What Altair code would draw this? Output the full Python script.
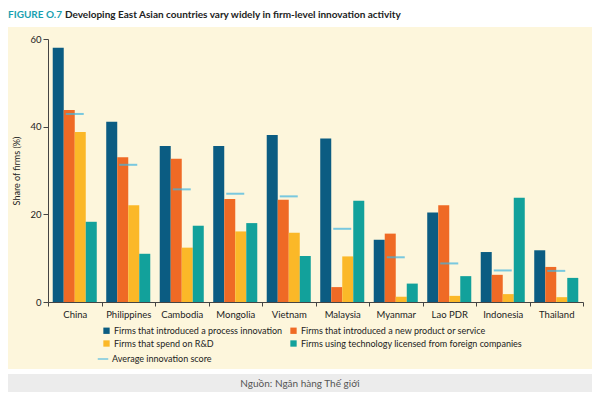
import altair as alt
import pandas as pd

countries = ["China", "Philippines", "Cambodia", "Mongolia", "Vietnam",
             "Malaysia", "Myanmar", "Lao PDR", "Indonesia", "Thailand"]
process = [58.0, 41.1, 35.6, 35.6, 38.1, 37.3, 14.2, 20.4, 11.4, 11.8]
product = [43.8, 33.0, 32.7, 23.5, 23.3, 3.4, 15.6, 22.1, 6.2, 8.0]
rnd = [38.8, 22.1, 12.4, 16.1, 15.8, 10.4, 1.2, 1.4, 1.8, 1.1]
licensed = [18.3, 11.0, 17.4, 18.0, 10.5, 23.1, 4.2, 5.9, 23.8, 5.5]
avg_score = [42.9, 31.3, 25.7, 24.7, 24.1, 16.7, 10.2, 8.8, 7.2, 7.1]

series_names = [
    "Firms that introduced a process innovation",
    "Firms that introduced a new product or service",
    "Firms that spend on R&D",
    "Firms using technology licensed from foreign companies",
]
series_colors = ["#0b5c82", "#ef6a25", "#fbb828", "#12a19b"]
avg_name = "Average innovation score"
avg_color = "#40b5e0"

rows = []
for name, vals in zip(series_names, [process, product, rnd, licensed]):
    for c, v in zip(countries, vals):
        rows.append({"country": c, "series": name, "value": v})
bars_df = pd.DataFrame(rows)
avg_df = pd.DataFrame({"country": countries, "series": avg_name, "value": avg_score})
one = pd.DataFrame({"k": [0]})

FONT = "Lato"
W, H = 535, 263

panel = alt.Chart(one).mark_rect(color="#fdf6dc").encode(
    x=alt.value(-40), x2=alt.value(544), y=alt.value(-12), y2=alt.value(330))
footer_bg = alt.Chart(one).mark_rect(color="#ececec").encode(
    x=alt.value(-40), x2=alt.value(544), y=alt.value(335), y2=alt.value(362))
footer_txt = alt.Chart(one).mark_text(
    text="Nguồn: Ngân hàng Thế giới", font=FONT, fontSize=10, color="#555555",
    baseline="middle", align="center").encode(x=alt.value(252), y=alt.value(345))
fig_lbl = alt.Chart(one).mark_text(
    text="FIGURE O.7", font=FONT, fontSize=10, fontWeight="bold", color="#1a9fb0",
    baseline="middle", align="left").encode(x=alt.value(-40), y=alt.value(-24))
title_txt = alt.Chart(one).mark_text(
    text="Developing East Asian countries vary widely in firm-level innovation activity",
    font=FONT, fontSize=10, fontWeight="bold", color="#222222",
    baseline="middle", align="left").encode(x=alt.value(17), y=alt.value(-24))

bars = alt.Chart(bars_df).mark_bar().encode(
    x=alt.X("country:N", sort=countries,
            scale=alt.Scale(paddingInner=0, paddingOuter=0),
            axis=alt.Axis(title=None, tickBand="extent", labelAngle=0, tickSize=4,
                          labelPadding=3, zindex=1)),
    xOffset=alt.XOffset("series:N", sort=series_names,
                        scale=alt.Scale(paddingInner=0, paddingOuter=0.43)),
    y=alt.Y("value:Q", scale=alt.Scale(domain=[0, 60], nice=False),
            axis=alt.Axis(values=[0, 20, 40, 60], title="Share of firms (%)",
                          grid=False, tickSize=5, titlePadding=8, zindex=1)),
    color=alt.Color("series:N",
                    scale=alt.Scale(domain=series_names, range=series_colors),
                    legend=alt.Legend(title=None, orient="none", legendX=54, legendY=287,
                                      columns=2, direction="horizontal",
                                      symbolType="square", symbolSize=40,
                                      columnPadding=6, rowPadding=3, labelOffset=3)),
)

ticks = alt.Chart(avg_df).mark_tick(size=18, thickness=2).encode(
    x=alt.X("country:N", sort=countries),
    y=alt.Y("value:Q"),
    color=alt.Color("series:N", scale=alt.Scale(domain=[avg_name], range=[avg_color]),
                    legend=alt.Legend(title=None, orient="none", legendX=49, legendY=314,
                                      symbolType="stroke", symbolSize=110,
                                      symbolStrokeColor=avg_color, symbolStrokeWidth=1.5,
                                      labelOffset=3)),
)

chart = alt.layer(panel, footer_bg, footer_txt, fig_lbl, title_txt, bars, ticks).resolve_scale(
    color="independent"
).properties(
    width=W, height=H,
    autosize=alt.AutoSizeParams(type="none"),
    padding={"left": 40, "top": 31, "right": 9, "bottom": 90},
    background="white",
).configure_view(stroke=None).configure_axis(
    labelFont=FONT, titleFont=FONT, labelFontSize=9.5, titleFontSize=9,
    titleFontWeight="normal", labelColor="#222222", titleColor="#222222",
    domainColor="#444444", tickColor="#444444",
).configure_legend(
    labelFont=FONT, labelFontSize=9, labelColor="#222222", labelLimit=300,
)

chart.save("out.html", embed_options={"renderer": "svg", "actions": False})
